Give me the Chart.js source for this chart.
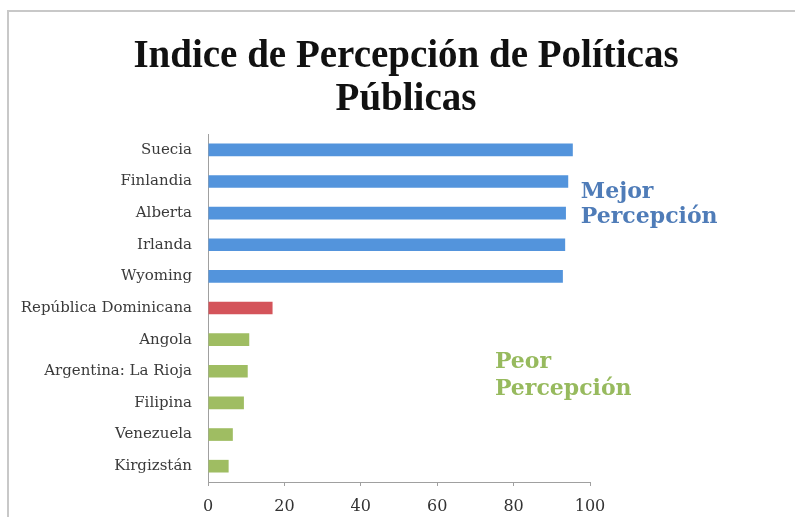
<!DOCTYPE html>
<html>
<head>
<meta charset="utf-8">
<script src="https://cdn.jsdelivr.net/npm/chart.js@4.4.1/dist/chart.umd.min.js"></script>
<style>
  html, body { margin: 0; padding: 0; background: #ffffff; }
  #wrap { position: relative; width: 795px; height: 517px; }
</style>
</head>
<body>
<div id="wrap"><canvas id="chart" width="795" height="517"></canvas></div>
<script>
// Índice por país / región
const categories = [
  'Suecia', 'Finlandia', 'Alberta', 'Irlanda', 'Wyoming',
  'República Dominicana',
  'Angola', 'Argentina: La Rioja', 'Filipina', 'Venezuela', 'Kirgizstán'
];
const values = [95.5, 94.3, 93.7, 93.5, 92.9, 16.9, 10.8, 10.4, 9.4, 6.5, 5.4];
const groups = ['mejor', 'mejor', 'mejor', 'mejor', 'mejor', 'rd', 'peor', 'peor', 'peor', 'peor', 'peor'];
const xTicks = [0, 20, 40, 60, 80, 100];
const titleLines = ['Indice de Percepción de Políticas', 'Públicas'];
const noteMejor = ['Mejor', 'Percepción'];
const notePeor = ['Peor', 'Percepción'];

const groupColors = { mejor: '#5394dc', rd: '#d4545a', peor: '#9fbd62' };

// Side notes: anchor given in axis units (x value, category position of first baseline)
const notes = [
  { lines: noteMejor, color: '#4f7cb8', x: 97.6, y: 1.53, step: 25 },
  { lines: notePeor, color: '#97ba5e', x: 75.1, y: 6.9, step: 27 }
];

// Outer frame and the two-line title
const framePlugin = {
  id: 'frame',
  beforeDraw(chart) {
    const c = chart.ctx;
    c.save();
    c.strokeStyle = '#c8c8c8';
    c.lineWidth = 2;
    c.beginPath();
    c.moveTo(8, 517);
    c.lineTo(8, 11);
    c.lineTo(795, 11);
    c.stroke();

    c.fillStyle = '#111111';
    c.font = 'bold 39px "Liberation Serif", serif';
    c.textAlign = 'center';
    c.textBaseline = 'alphabetic';
    c.fillText(titleLines[0], 406, 67);
    c.fillText(titleLines[1], 406, 110);
    c.restore();
  }
};

const notesPlugin = {
  id: 'notes',
  afterDatasetsDraw(chart) {
    const c = chart.ctx;
    const xs = chart.scales.x, ys = chart.scales.y;
    c.save();
    c.font = 'bold 22px "DejaVu Serif", serif';
    c.textAlign = 'left';
    c.textBaseline = 'alphabetic';
    notes.forEach(n => {
      const x = xs.getPixelForValue(n.x);
      const y = ys.getPixelForValue(n.y);
      c.fillStyle = n.color;
      n.lines.forEach((t, i) => c.fillText(t, x, y + i * n.step));
    });
    c.restore();
  }
};

new Chart(document.getElementById('chart'), {
  type: 'bar',
  data: {
    labels: categories,
    datasets: [{
      data: values,
      backgroundColor: groups.map(g => groupColors[g]),
      borderWidth: 0,
      barPercentage: 0.4,
      categoryPercentage: 1.0
    }]
  },
  options: {
    indexAxis: 'y',
    responsive: false,
    animation: false,
    layout: { padding: { left: 10, right: 205, top: 134, bottom: 0 } },
    plugins: {
      legend: { display: false },
      tooltip: { enabled: false },
      title: { display: false }
    },
    scales: {
      x: {
        min: 0,
        max: 100,
        afterBuildTicks(scale) { scale.ticks = xTicks.map(v => ({ value: v })); },
        afterFit(scale) { scale.height = 35; },
        grid: { drawOnChartArea: false, drawTicks: true, tickLength: 4, color: '#a0a0a0' },
        border: { display: true, color: '#a0a0a0', width: 1 },
        ticks: {
          color: '#333333',
          padding: 11,
          font: { family: '"DejaVu Serif", serif', size: 16 }
        }
      },
      y: {
        afterFit(scale) { scale.width = 198; },
        grid: { display: false, drawTicks: false },
        border: { display: true, color: '#a0a0a0', width: 1 },
        ticks: {
          color: '#3a3a3a',
          padding: 16,
          font: { family: '"DejaVu Serif", serif', size: 15 }
        }
      }
    }
  },
  plugins: [framePlugin, notesPlugin]
});
</script>
</body>
</html>
